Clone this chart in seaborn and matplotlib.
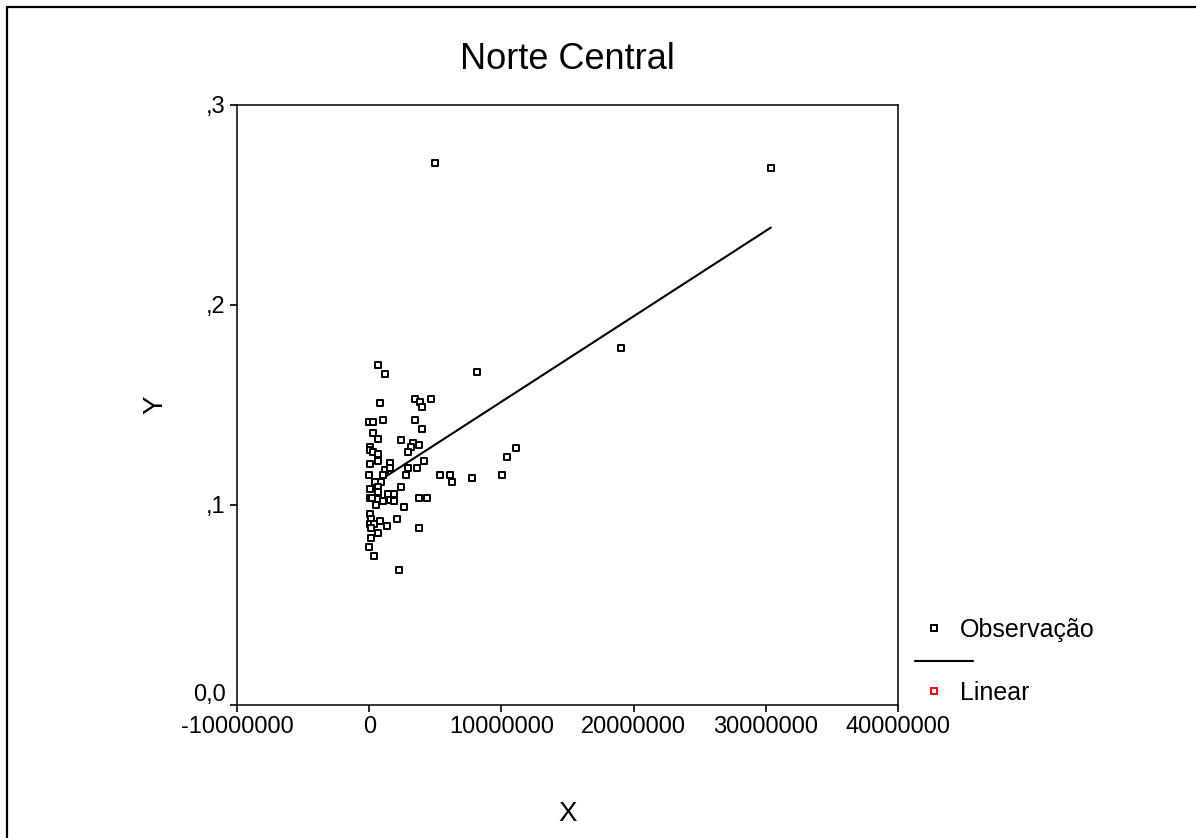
import numpy as np
import pandas as pd
import seaborn as sns
import matplotlib.pyplot as plt
import matplotlib.transforms as mtransforms
from matplotlib.lines import Line2D

x_obs = [0.68e6, 1.21e6, 8.18e6, 0.83e6, 3.48e6, 3.86e6, 4.02e6, 4.70e6, 0.02e6, 0.30e6,
         1.06e6, 3.48e6, 4.02e6, 0.30e6, 0.68e6, 2.42e6, 3.33e6, 3.18e6, 3.79e6, 0.05e6,
         0.08e6, 0.30e6, 0.68e6, 2.95e6, 0.68e6, 4.17e6, 0.03e6, 1.59e6, 2.95e6, 3.64e6,
         1.21e6, 1.59e6, 0.02e6, 1.06e6, 2.80e6, 5.38e6, 6.14e6, 6.29e6, 7.80e6, 10.08e6,
         0.45e6, 0.91e6, 0.68e6, 0.04e6, 2.42e6, 0.68e6, 1.44e6, 1.89e6, 0.05e6, 0.23e6,
         0.68e6, 1.06e6, 1.59e6, 1.89e6, 0.53e6, 2.65e6, 3.79e6, 4.39e6, 0.03e6, 0.15e6,
         2.12e6, 0.04e6, 0.38e6, 0.83e6, 1.36e6, 0.15e6, 0.68e6, 0.15e6, 3.79e6, 0.02e6,
         0.38e6, 2.27e6, 11.14e6, 10.45e6, 5.00e6, 30.38e6, 19.02e6]
y_obs = [0.170, 0.1655, 0.1665, 0.151, 0.153, 0.1515, 0.149, 0.153, 0.1415, 0.1415,
         0.1425, 0.1425, 0.138, 0.136, 0.133, 0.1325, 0.131, 0.129, 0.130, 0.129,
         0.1275, 0.1265, 0.1255, 0.1265, 0.122, 0.122, 0.1205, 0.121, 0.1185, 0.1185,
         0.1175, 0.1185, 0.115, 0.115, 0.115, 0.115, 0.115, 0.1115, 0.1135, 0.115,
         0.1115, 0.1115, 0.109, 0.108, 0.109, 0.1065, 0.1055, 0.1055, 0.1035, 0.1035,
         0.103, 0.102, 0.1025, 0.102, 0.100, 0.099, 0.1035, 0.1035, 0.0955, 0.093,
         0.093, 0.0905, 0.0905, 0.092, 0.0895, 0.0885, 0.086, 0.0835, 0.0885, 0.079,
         0.0745, 0.0675, 0.1285, 0.124, 0.271, 0.2685, 0.1785]

x_ticks = [-10000000, 0, 10000000, 20000000, 30000000, 40000000]
x_ticklabels = ['-10000000', '0', '10000000', '20000000', '30000000', '40000000']
y_ticks = [0.0, 0.1, 0.2, 0.3]
y_ticklabels = ['0,0', ',1', ',2', ',3']

df = pd.DataFrame({'X': x_obs, 'Y': y_obs})

sns.set_theme(style='ticks')
plt.rcParams['font.family'] = ['Liberation Sans', 'DejaVu Sans']
plt.rcParams['text.color'] = 'black'
plt.rcParams['axes.labelcolor'] = 'black'
plt.rcParams['xtick.color'] = 'black'
plt.rcParams['ytick.color'] = 'black'

W, H = 1196, 838
fig = plt.figure(figsize=(W / 100, H / 100), dpi=100)
ax = fig.add_axes([237 / W, 1 - 705 / H, (898 - 237) / W, (705 - 105) / H])

# fitted line
sns.regplot(x='X', y='Y', data=df, scatter=False, ci=None, ax=ax,
            line_kws={'color': 'black', 'lw': 1.5})
# observations
sns.scatterplot(x='X', y='Y', data=df, ax=ax, marker='s', s=16,
                facecolor='white', edgecolor='black', linewidth=1.4, zorder=3)

ax.set_xlim(-10000000, 40000000)
ax.set_ylim(0, 0.3)
ax.set_xticks(x_ticks)
ax.set_xticklabels(x_ticklabels)
ax.set_yticks(y_ticks)
ax.set_yticklabels(y_ticklabels)
ax.tick_params(axis='both', labelsize=17, length=5, width=1.2, color='black', pad=3)
for s in ax.spines.values():
    s.set_visible(True)
    s.set_linewidth(1.1)
    s.set_color('black')

# lift the "0,0" label so it clears the x tick labels
lbl = ax.get_yticklabels()[0]
lbl.set_transform(lbl.get_transform() + mtransforms.ScaledTranslation(0, 13 / 100, fig.dpi_scale_trans))

ax.set_title('Norte Central', fontsize=26, pad=26, color='black')
ax.set_xlabel('X', fontsize=20, labelpad=45)
ax.set_ylabel('Y', fontsize=20, labelpad=18)

# legend
handles = [
    Line2D([], [], marker='s', ls='none', mfc='white', mec='black', ms=4, mew=1.4, label='Observação'),
    Line2D([], [], marker='s', ls='none', mfc='white', mec='red', ms=4, mew=1.4, label='Linear'),
]
fig.legend(handles=handles, loc='upper left', bbox_to_anchor=(921 / W, 1 - 618 / H),
           frameon=False, fontsize=18, handlelength=1.0, handletextpad=0.55,
           borderpad=0, borderaxespad=0, labelspacing=1.55)
fig.add_artist(Line2D([915 / W, 973 / W], [1 - 661 / H] * 2, transform=fig.transFigure,
                      color='black', lw=1.5))

# outer frame (left and top)
fig.add_artist(Line2D([7 / W, 7 / W], [0, 1 - 7 / H], transform=fig.transFigure, color='black', lw=1.6))
fig.add_artist(Line2D([7 / W, 1], [1 - 7 / H] * 2, transform=fig.transFigure, color='black', lw=1.6))

fig.savefig('out.png', dpi=100, facecolor='white')
